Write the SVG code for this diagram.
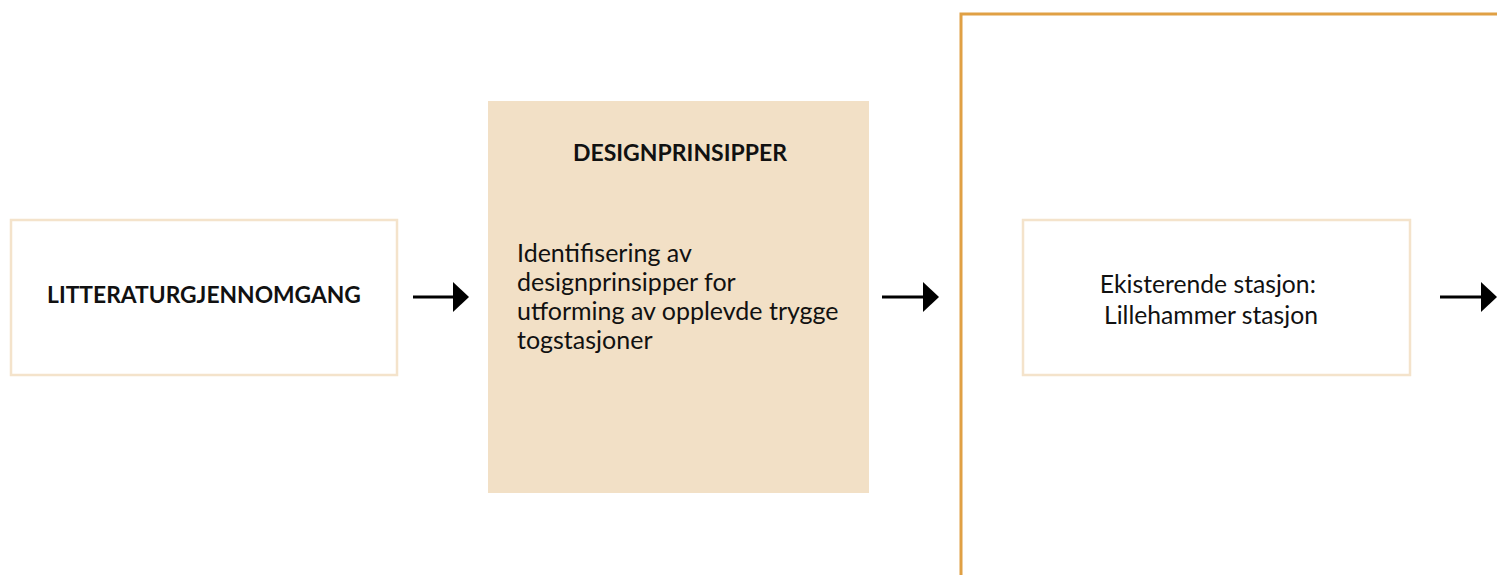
<svg xmlns="http://www.w3.org/2000/svg" width="1497" height="575" viewBox="0 0 1497 575">
<style>
.box{fill:#ffffff;stroke:#f4e3cb;stroke-width:2.5}
.fill{fill:#f2e0c6}
.t{font-family:Lato,"Liberation Sans",sans-serif;fill:#111111}
.b{font-weight:bold}
.conn{stroke:#000;stroke-width:3;fill:none}
.frame{stroke:#e0a044;stroke-width:3;fill:none}
</style>
<defs>
<marker id="ah" viewBox="0 0 16 30" refX="0" refY="15" markerWidth="16" markerHeight="30" markerUnits="userSpaceOnUse" orient="auto">
<path d="M0,0 L16,15 L0,30 Z" fill="#000"/>
</marker>
</defs>
<rect width="1497" height="575" fill="#ffffff"/>
<path class="frame" d="M961,575 L961,14 L1497,14"/>
<g id="n1">
<rect class="box" x="11" y="220" width="386" height="155"/>
<text class="t b" x="204" y="303" font-size="22.8" text-anchor="middle">LITTERATURGJENNOMGANG</text>
</g>
<g id="n2">
<rect class="fill" x="488" y="101" width="381" height="392"/>
<text class="t b" x="680" y="161" font-size="23" text-anchor="middle">DESIGNPRINSIPPER</text>
<text class="t" font-size="25">
<tspan x="517" y="262">Identifisering av</tspan>
<tspan x="517" y="291">designprinsipper for</tspan>
<tspan x="517" y="320">utforming av opplevde trygge</tspan>
<tspan x="517" y="349">togstasjoner</tspan>
</text>
</g>
<g id="n3">
<rect class="box" x="1023" y="220" width="387" height="155"/>
<text class="t" font-size="24.7" text-anchor="middle">
<tspan x="1211" y="293">Ekisterende stasjon:</tspan>
<tspan x="1211" y="324">Lillehammer stasjon</tspan>
</text>
</g>
<g id="connectors">
<line class="conn" x1="413" y1="297" x2="453" y2="297" marker-end="url(#ah)"/>
<line class="conn" x1="882" y1="297" x2="923" y2="297" marker-end="url(#ah)"/>
<line class="conn" x1="1440" y1="297" x2="1481" y2="297" marker-end="url(#ah)"/>
</g>
</svg>
